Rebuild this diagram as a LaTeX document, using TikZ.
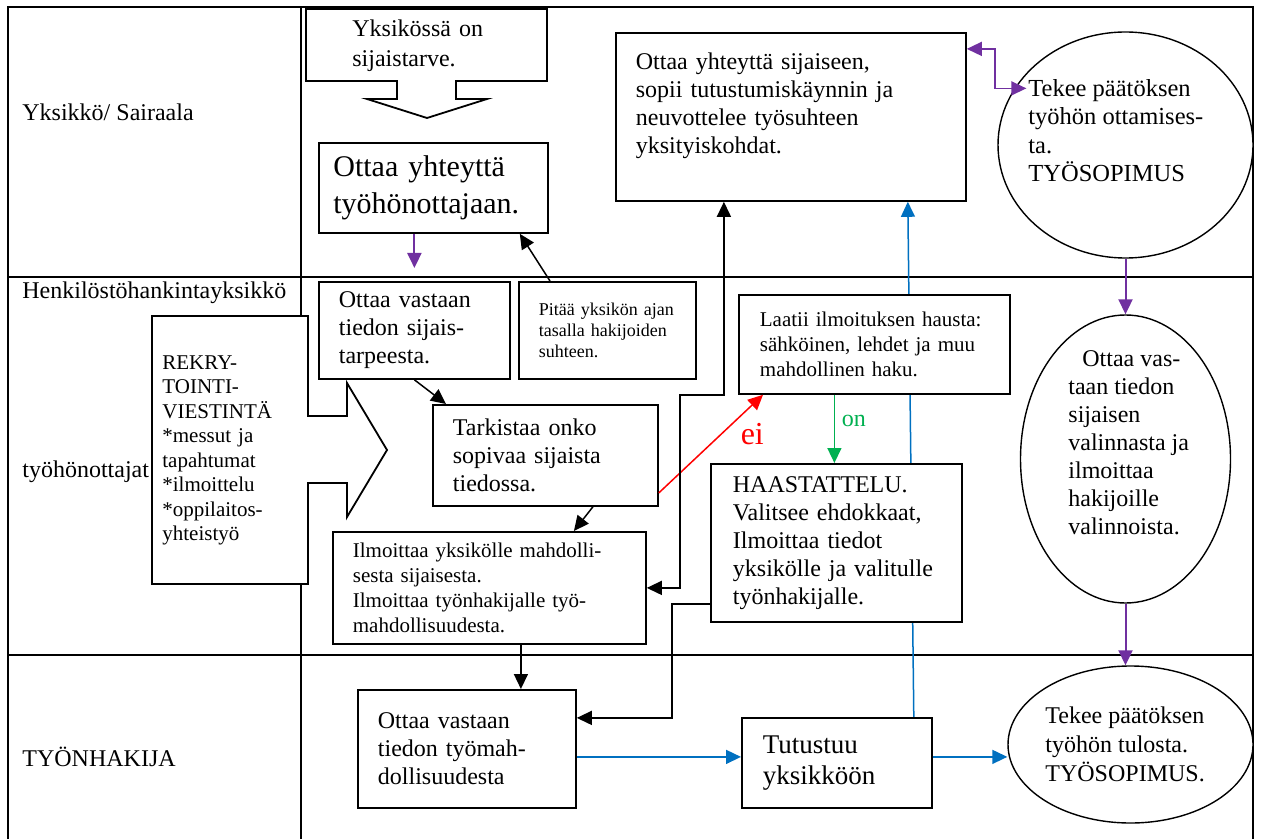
\documentclass[tikz,border=0pt]{standalone}
\usepackage{fontspec}
\setmainfont{Liberation Serif}
\usetikzlibrary{arrows.meta}
\usetikzlibrary{shapes.geometric}
\usepackage{xcolor}

\definecolor{lilac}{HTML}{7030A0}
\definecolor{seablue}{HTML}{0070C0}
\definecolor{leafgreen}{HTML}{00B050}

\pgfdeclarelayer{background}
\pgfsetlayers{background,main}

\begin{document}
\begin{tikzpicture}[x=0.5pt, y=-0.5pt]
  \useasboundingbox (0,0) rectangle (1261,839);

  \tikzstyle{lane} = [line width=1.2pt]
  \tikzstyle{rowlabel} = [anchor=west, inner sep=0pt, font=\fontsize{12}{14}\selectfont]
  \tikzstyle{flowbox} = [draw, fill=white, line width=0.9pt, anchor=north west,
  align=left, inner ysep=2pt,
  font=\fontsize{12}{14}\selectfont]
  \tikzstyle{ovalshape} = [draw, ellipse, fill=white, line width=0.7pt, inner sep=0pt]
  \tikzstyle{ovaltext} = [anchor=north west, align=left, inner sep=0pt,
  font=\fontsize{12}{14}\selectfont]
  \tikzstyle{conn} = [line width=0.75pt, -{Triangle[length=7.5pt,width=7pt]}]
  \tikzstyle{bothconn} = [line width=0.75pt, {Triangle[length=7.5pt,width=7pt]}-{Triangle[length=7.5pt,width=7pt]}]
  \tikzstyle{lilacconn} = [conn, draw=lilac, line width=1pt]
  \tikzstyle{seaconn} = [conn, draw=seablue]

% swimlanes
\begin{pgfonlayer}{background}
\draw[lane] (8,839) -- (8,7) -- (1253,7) -- (1253,839);
\draw[lane] (8,277) -- (1253,277);
\draw[lane] (8,655) -- (1253,655);
\draw[lane] (301,7) -- (301,839);
\end{pgfonlayer}

\node[rowlabel] (unit) at (22,112) {Yksikkö/ Sairaala};
\node[rowlabel] (hr) at (22,293) {Henkilöstöhankintayksikkö};
\node[rowlabel] (recruiters) at (22,472) {työhönottajat};
\node[rowlabel] (applicant) at (22,757) {TYÖNHAKIJA};

% block arrows, drawn as shapes
\draw[line width=0.9pt, fill=white] (306,9) -- (547,9) -- (547,81) -- (456,81) -- (456,99)
  -- (487,99) -- (427,118) -- (367,99) -- (397,99) -- (397,81) -- (306,81) -- cycle;
\node[anchor=north west, minimum width=120.5pt, minimum height=36pt, text width=74.5pt,
  align=left, font=\fontsize{12}{15}\selectfont] (need) at (306,9)
  {Yksikössä on\\sijaistarve.};

\draw[line width=0.9pt, fill=white] (152,316) -- (308,316) -- (308,416) -- (347,416) -- (347,383)
  -- (387,450) -- (347,517) -- (347,483) -- (308,483) -- (308,584) -- (152,584) -- cycle;
\node[anchor=north west, minimum width=78pt, minimum height=134pt, text width=68pt,
  align=left, font=\fontsize{10.5}{12.25}\selectfont] (recruit) at (152,316)
  {REKRY-\\TOINTI-\\VIESTINTÄ\\{*}messut ja\\tapahtumat\\{*}ilmoittelu\\{*}oppilaitos-\\yhteistyö};

% unit lane
\node[flowbox, minimum width=114.5pt, minimum height=45pt, text width=100pt,
  font=\fontsize{15}{18.5}\selectfont] (contact) at (318,142)
  {Ottaa yhteyttä\\työhönottajaan.};
\node[flowbox, minimum width=175pt, minimum height=84pt, text width=155pt] (negotiate) at (615,32)
  {Ottaa yhteyttä sijaiseen,\\sopii tutustumiskäynnin ja\\neuvottelee työsuhteen\\yksityiskohdat.\\\mbox{}};
\node[ovalshape, minimum width=127.5pt, minimum height=113pt] (decide1) at (1125.5,145) {};
\node[ovaltext, font=\fontsize{12.25}{14.25}\selectfont] (decide1text) at (1028,79)
  {Tekee päätöksen\\työhön ottamises-\\ta.\\TYÖSOPIMUS};

% recruitment lane
\node[flowbox, minimum width=95.5pt, minimum height=48.5pt, text width=75.5pt] (receive) at (318,281)
  {Ottaa vastaan\\tiedon sijais-\\tarpeesta.};
\node[flowbox, minimum width=88.5pt, minimum height=48.5pt, text width=68.5pt,
  font=\fontsize{9}{10.5}\selectfont] (update) at (518,281)
  {Pitää yksikön ajan\\tasalla hakijoiden\\suhteen.};
\node[flowbox, minimum width=112.5pt, minimum height=50.5pt, text width=92.5pt] (check) at (432,404)
  {Tarkistaa onko\\sopivaa sijaista\\tiedossa.};
\node[flowbox, minimum width=156.5pt, minimum height=56pt, text width=136.5pt,
  font=\fontsize{10.5}{12.5}\selectfont] (notify) at (332,531)
  {Ilmoittaa yksikölle mahdolli-\\sesta sijaisesta.\\Ilmoittaa työnhakijalle työ-\\mahdollisuudesta.};
\node[flowbox, minimum width=135.5pt, minimum height=49.5pt, text width=114.5pt,
  font=\fontsize{10.5}{12.5}\selectfont] (advert) at (738,294)
  {Laatii ilmoituksen hausta:\\sähköinen, lehdet ja muu\\mahdollinen haku.};
\node[flowbox, minimum width=125.5pt, minimum height=79pt, text width=103.5pt] (interview) at (710,463)
  {HAASTATTELU.\\Valitsee ehdokkaat,\\Ilmoittaa tiedot\\yksikölle ja valitulle\\työnhakijalle.};
\node[ovalshape, minimum width=105pt, minimum height=144pt] (inform) at (1125.5,459) {};
\node[ovaltext] (informtext) at (1068,350)
  {\hspace*{7pt}Ottaa vas-\\taan tiedon\\sijaisen\\valinnasta ja\\ilmoittaa\\hakijoille\\valinnoista.};

% applicant lane
\node[flowbox, minimum width=109pt, minimum height=59pt, text width=89pt] (offer) at (357,689)
  {Ottaa vastaan\\tiedon työmah-\\dollisuudesta};
\node[flowbox, minimum width=95pt, minimum height=45pt, text width=74pt,
  font=\fontsize{13.5}{15.5}\selectfont] (visit) at (741,717)
  {Tutustuu\\yksikköön};
\node[ovalshape, minimum width=122.5pt, minimum height=78.5pt] (decide2) at (1130.5,744.5) {};
\node[ovaltext, font=\fontsize{12}{14.5}\selectfont] (decide2text) at (1045,706)
  {Tekee päätöksen\\työhön tulosta.\\TYÖSOPIMUS.};

% connectors
\draw[lilacconn] (contact.south -| receive.north) -- ([yshift=6.5pt]receive.north);
\draw[conn] ([xshift=16pt]update.north west) -- ([xshift=-14.5pt]contact.south east);
\draw[conn] (receive.south) -- ([xshift=7pt]check.north west);
\draw[conn] ([xshift=23.75pt]check.south) -- ([xshift=42.25pt]notify.north);
\draw[conn, red] ([yshift=-18.75pt]check.east) -- node[pos=0.6, right=6pt,
  font=\fontsize{16}{18}\selectfont] (no) {ei} ([xshift=12.5pt]advert.south west);
\draw[conn, leafgreen] ([xshift=-20pt]advert.south) -- node[pos=0.38, anchor=west,
  font=\fontsize{12}{14}\selectfont] (yes) {on}
  ([xshift=-20pt]advert.south |- interview.north);
\draw[bothconn] ([xshift=-33.5pt]negotiate.south) -- ++(0,193) -| ([xshift=16.5pt]notify.east) -- (notify.east);
\draw[conn] ([yshift=-30.5pt]interview.west) -- ++(-38,0) |- ([yshift=15.5pt]offer.east);
\draw[conn] ([xshift=15.75pt]notify.south) -- ([xshift=15.75pt]notify.south |- offer.north);

\draw[seaconn] ([yshift=-4pt]offer.east) -- ([yshift=-4pt]offer.east -| visit.west);
\draw[seaconn] ([yshift=3pt]visit.east) -- ([yshift=3pt]visit.east -| decide2.west);
\begin{pgfonlayer}{background}
\draw[seaconn] ([xshift=-9.5pt]visit.north east) -- ([xshift=-29.5pt]negotiate.south east);
\end{pgfonlayer}

\draw[lilacconn, bothconn] ([yshift=34pt]negotiate.east) -- ++(28,0) |- ([xshift=6pt]decide1.153);
\draw[lilacconn] (decide1.south) -- (inform.north);
\draw[lilacconn] (inform.south) -- (inform.south |- decide2.north);

\end{tikzpicture}
\end{document}
